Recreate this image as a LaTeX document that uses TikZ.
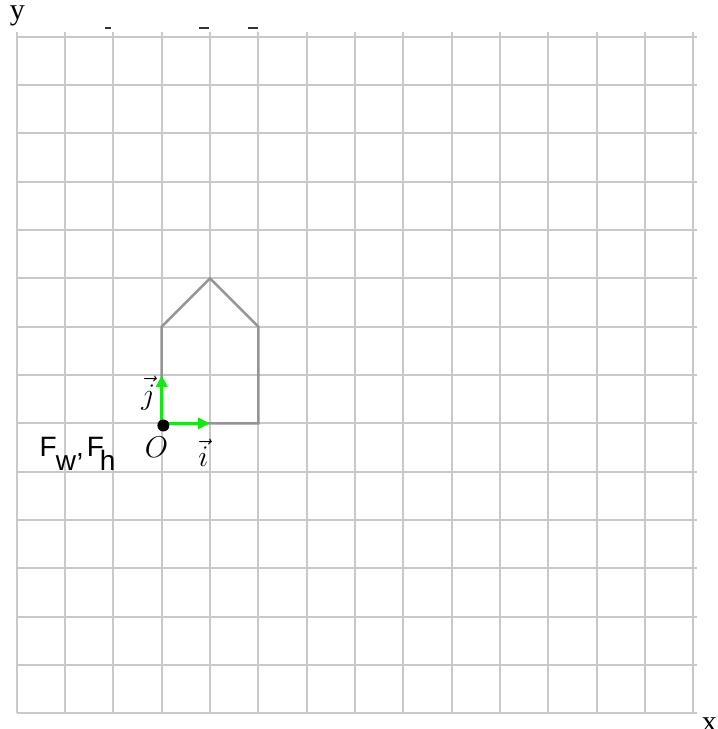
\documentclass[tikz,border=0pt]{standalone}
\usepackage{fix-cm}
\usepackage{fontspec}
\newfontfamily\labelsans{Liberation Sans}
\newfontfamily\axisserif{Liberation Serif}
\usetikzlibrary{arrows.meta}
\definecolor{basisgreen}{RGB}{20,232,20}

\begin{document}
\begin{tikzpicture}[x=48.33pt, y=48.33pt, >={Triangle[length=12pt, width=11pt]},
  gridline/.style={draw=black!21, line width=2pt},
  house/.style={draw=black!42, line width=2.5pt},
  basis/.style={->, draw=basisgreen, line width=3.3pt},
  mlabel/.style={font=\fontsize{30}{36}\selectfont, inner sep=0pt},
  axlabel/.style={font=\axisserif\fontsize{30}{36}\selectfont, inner sep=0pt},
  stub/.style={draw=black!80, line width=1.4pt}]

\useasboundingbox (-3.346,-6.325) rectangle (11.510,8.759);

%% grid
\foreach \i in {-3,...,11}{\draw[gridline] (\i,-6) -- (\i,8.10);}
\foreach \j in {-6,...,8}{\draw[gridline] (-3,\j) -- (11.08,\j);}

%% clipped marks above the grid
\draw[stub] (-1.17,8.18) -- (-1.05,8.18);
\draw[stub] (0.77,8.18) -- (0.98,8.18);
\draw[stub] (1.79,8.18) -- (1.99,8.18);

%% house
\draw[house] (0,0) -- (2,0) -- (2,2) -- (1,3) -- (0,2) -- cycle;

%% frame
\coordinate (O) at (0,0);
\coordinate (ei) at (1,0);
\coordinate (ej) at (0,1);
\draw[basis] (O) -- (ei);
\draw[basis] (O) -- (ej);
\fill (0.034,-0.045) circle (6pt);

\node[mlabel, anchor=base] (lblO) at (-0.11,-0.70) {$O$};
\node[mlabel, anchor=base] (lbli) at (0.86,-0.90) {$\vec{i}$};
\node[mlabel] (lblj) at (-0.28,0.62) {$\vec{j}$};
\node[anchor=base west, inner sep=0pt, font=\labelsans\fontsize{28}{34}\selectfont]
  (frame) at (-2.528,-0.691)
  {F\kern-1pt\raisebox{-13.3pt}{w},\kern3pt F\kern-4pt\raisebox{-13.3pt}{h}};

%% axis names
\node[axlabel] (ylbl) at (-2.984,8.432) {y};
\node[axlabel] (xlbl) at (11.33,-6.24) {x};

\end{tikzpicture}
\end{document}
